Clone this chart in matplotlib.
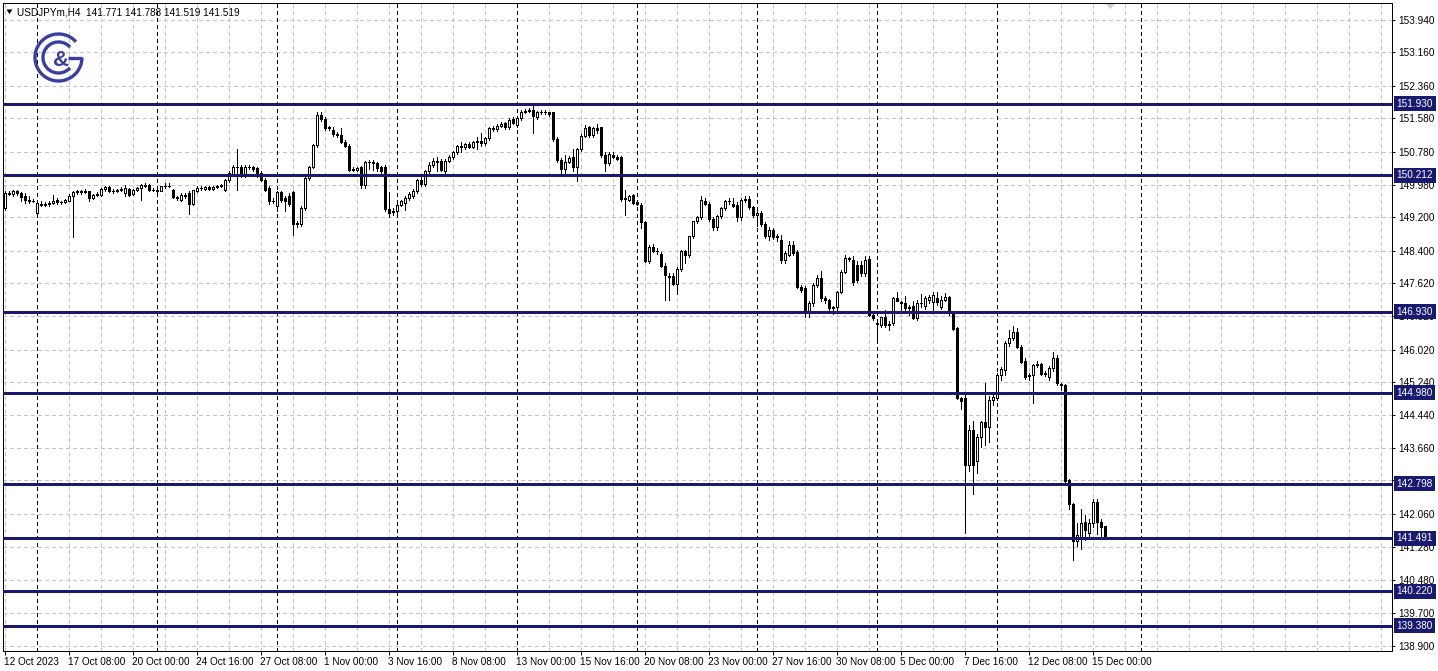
import matplotlib
matplotlib.use('Agg')
import matplotlib.pyplot as plt
from matplotlib.patches import Arc, Polygon
from matplotlib.transforms import blended_transform_factory
import numpy as np

plt.rcParams['lines.scale_dashes'] = False
plt.rcParams['font.family'] = ['Liberation Sans', 'DejaVu Sans']

# ---------------- data ----------------
symbol_header = "USDJPYm,H4  141.771 141.788 141.519 141.519"

opens = [
149.42,149.78,149.76,149.83,149.78,149.70,149.62,149.60,149.30,149.52,
149.50,149.52,149.55,149.62,149.56,149.57,149.60,149.72,149.80,149.82,
149.81,149.82,149.66,149.74,149.74,149.88,149.93,149.82,149.83,149.86,
149.78,149.88,149.76,149.85,149.90,149.98,149.98,149.86,149.85,149.84,
149.94,149.96,149.86,149.68,149.62,149.74,149.78,149.53,149.84,149.90,
149.88,149.92,149.88,149.92,149.95,149.86,150.10,150.24,150.42,150.40,
150.20,150.42,150.40,150.38,150.26,150.10,149.90,149.58,149.46,149.80,
149.66,149.72,149.80,149.04,149.04,149.42,150.14,150.42,150.94,151.66,
151.56,151.34,151.30,151.20,151.18,151.02,150.92,150.34,150.34,150.40,
149.98,150.52,150.54,150.50,150.40,150.42,149.40,149.32,149.34,149.50,
149.54,149.66,149.72,149.82,150.10,150.00,150.30,150.46,150.56,150.56,
150.30,150.56,150.64,150.76,150.92,150.88,150.96,150.90,151.00,151.04,
150.98,151.10,151.34,151.32,151.40,151.46,151.36,151.56,151.42,151.58,
151.74,151.76,151.78,151.60,151.72,151.74,151.72,151.72,151.08,150.58,
150.36,150.54,150.66,150.40,150.84,151.16,151.36,151.18,151.34,151.36,
150.70,150.50,150.70,150.66,150.66,149.64,149.62,149.74,149.56,149.50,
149.08,148.16,148.48,148.40,148.32,148.04,147.80,147.80,147.60,147.96,
148.38,148.30,148.74,149.10,149.20,149.60,149.52,149.16,148.96,149.22,
149.42,149.58,149.52,149.50,149.20,149.62,149.64,149.44,149.26,149.30,
149.04,148.76,148.90,148.72,148.65,148.17,148.30,148.53,148.37,147.53,
147.49,146.89,147.13,147.57,147.73,147.25,147.21,147.03,147.05,147.41,
147.89,148.21,148.17,148.05,148.05,147.85,148.20,146.86,146.66,146.61,
146.81,146.62,146.65,147.25,147.17,147.13,147.03,147.08,146.79,147.13,
147.08,147.21,147.17,147.25,147.05,147.21,147.29,146.89,146.53,144.85,
144.85,143.25,144.09,143.34,143.93,144.27,144.17,144.81,144.85,145.41,
145.53,146.17,146.29,146.45,146.09,145.75,145.39,145.40,145.66,145.67,
145.43,145.37,145.57,145.83,145.19,145.17,142.89,142.30,141.42,141.53,
141.88,141.61,141.85,142.37,141.89,141.771]

highs = [
149.84,149.84,149.86,149.85,149.80,149.78,149.70,149.64,149.58,149.58,
149.56,149.58,149.74,149.66,149.60,149.65,149.75,149.82,149.86,149.86,
149.87,149.84,149.76,149.80,149.90,149.95,149.96,149.87,149.88,149.92,
149.98,149.90,149.88,149.93,150.00,150.02,150.00,149.90,149.89,149.96,
150.02,150.02,149.88,149.72,149.78,149.78,149.82,149.86,149.96,149.94,
149.96,149.94,149.94,149.97,150.00,150.11,150.30,150.45,150.83,150.45,
150.45,150.46,150.44,150.40,150.30,150.14,149.94,149.66,149.84,149.84,
149.70,149.78,149.84,149.10,149.46,150.16,150.44,150.96,151.72,151.72,
151.60,151.40,151.36,151.24,151.34,151.06,150.96,150.42,150.40,150.44,
150.56,150.58,150.58,150.54,150.44,150.46,149.80,149.42,149.62,149.62,
149.70,149.80,149.88,150.12,150.16,150.34,150.52,150.62,150.64,150.60,
150.60,150.70,150.80,150.94,151.00,150.98,151.00,151.04,151.14,151.22,
151.12,151.36,151.40,151.44,151.48,151.50,151.58,151.60,151.60,151.78,
151.80,151.82,151.90,151.76,151.78,151.78,151.74,151.74,151.12,150.62,
150.70,150.68,150.84,150.86,151.20,151.42,151.40,151.38,151.44,151.38,
150.78,150.76,150.76,150.70,150.68,149.86,149.74,149.76,149.62,149.54,
149.12,148.54,148.56,148.46,148.36,148.10,147.86,147.86,148.00,148.42,
148.42,148.76,149.12,149.24,149.70,149.66,149.56,149.20,149.26,149.44,
149.62,149.66,149.66,149.56,149.66,149.70,149.72,149.48,149.36,149.34,
149.08,148.96,148.94,148.80,148.78,148.40,148.64,148.62,148.42,147.58,
147.55,147.18,147.62,147.82,147.90,147.30,147.24,147.06,147.44,147.94,
148.30,148.24,148.28,148.14,148.14,148.28,148.27,146.90,146.72,146.80,
146.98,146.70,147.28,147.40,147.20,147.30,147.10,147.20,147.22,147.35,
147.30,147.33,147.40,147.40,147.30,147.38,147.32,146.92,146.56,144.88,
144.92,144.20,144.30,144.00,144.30,145.21,144.90,145.00,145.45,145.60,
146.23,146.50,146.58,146.55,146.13,145.82,145.45,145.68,145.75,145.70,
145.50,145.62,145.96,145.88,145.22,145.20,142.92,142.33,141.86,142.18,
142.05,141.95,142.42,142.44,141.95,141.788]

lows = [
149.38,149.73,149.72,149.73,149.60,149.55,149.54,149.56,149.28,149.47,
149.48,149.48,149.52,149.52,149.52,149.55,149.58,148.73,149.76,149.76,
149.78,149.60,149.64,149.70,149.72,149.84,149.80,149.78,149.80,149.82,
149.72,149.70,149.74,149.82,149.62,149.93,149.84,149.82,149.80,149.82,
149.90,149.92,149.66,149.62,149.58,149.66,149.29,149.50,149.80,149.86,
149.86,149.86,149.86,149.90,149.93,149.82,150.05,150.20,149.86,150.16,
150.16,150.36,150.30,150.16,150.06,149.84,149.52,149.54,149.36,149.56,
149.36,149.48,148.77,148.96,148.98,149.38,150.10,150.38,150.90,151.52,
151.30,151.30,151.16,151.14,150.98,150.90,150.30,150.30,150.30,149.90,
149.90,150.36,150.34,150.30,150.26,149.34,149.20,149.26,149.26,149.46,
149.38,149.62,149.66,149.78,149.96,149.96,150.26,150.42,150.30,150.30,
150.26,150.52,150.60,150.72,150.76,150.84,150.86,150.86,150.84,150.92,
150.94,151.06,151.28,151.28,151.36,151.32,151.32,151.44,151.38,151.54,
151.70,151.72,151.22,151.56,151.68,151.68,151.64,151.04,150.54,150.18,
150.24,150.50,150.30,150.06,150.80,151.12,151.14,151.14,151.22,150.66,
150.30,150.46,150.62,150.58,149.60,149.26,149.58,149.52,149.50,148.94,
148.12,148.10,148.36,148.32,148.00,147.22,147.22,147.58,147.36,147.92,
148.10,148.24,148.70,149.06,149.16,149.50,149.12,148.90,148.90,149.18,
149.38,149.52,149.44,149.12,149.14,149.56,149.40,149.20,149.00,148.98,
148.70,148.66,148.68,148.64,148.10,148.10,148.26,148.30,147.50,147.40,
146.80,146.80,147.06,147.52,147.18,147.14,146.95,146.88,146.90,147.38,
147.86,148.16,147.58,147.64,147.80,147.80,146.84,146.72,146.20,146.56,
146.56,146.50,146.60,147.18,146.90,146.96,146.85,146.75,146.72,147.05,
147.00,147.15,146.95,147.10,147.00,147.18,146.85,146.50,144.84,144.60,
141.61,143.10,142.55,143.05,143.68,143.72,143.80,144.70,144.80,145.30,
145.40,146.10,146.25,146.05,145.70,145.32,145.30,144.73,145.60,145.40,
145.38,145.30,145.50,145.18,145.05,142.80,142.20,140.97,141.30,141.24,
141.45,141.55,141.75,141.60,141.55,141.519]

closes = [
149.78,149.77,149.83,149.78,149.68,149.62,149.60,149.59,149.54,149.50,
149.53,149.55,149.59,149.56,149.57,149.62,149.72,149.80,149.82,149.80,
149.84,149.66,149.74,149.76,149.88,149.93,149.82,149.83,149.86,149.88,
149.90,149.74,149.85,149.90,149.98,149.96,149.86,149.85,149.84,149.94,
149.96,149.95,149.68,149.66,149.74,149.70,149.53,149.85,149.90,149.90,
149.93,149.88,149.92,149.95,149.98,150.10,150.26,150.42,150.40,150.22,
150.42,150.40,150.36,150.18,150.10,149.86,149.58,149.60,149.80,149.62,
149.58,149.52,149.04,149.06,149.42,150.14,150.42,150.94,151.66,151.56,
151.34,151.36,151.20,151.18,151.02,150.92,150.34,150.36,150.38,149.98,
150.52,150.54,150.50,150.38,150.30,149.40,149.30,149.34,149.50,149.58,
149.66,149.76,149.84,150.10,150.00,150.30,150.46,150.56,150.54,150.34,
150.56,150.64,150.76,150.92,150.88,150.96,150.90,151.00,151.04,150.98,
151.10,151.34,151.32,151.40,151.44,151.36,151.54,151.46,151.58,151.74,
151.76,151.78,151.64,151.72,151.74,151.72,151.68,151.08,150.58,150.36,
150.54,150.62,150.40,150.84,151.16,151.34,151.18,151.34,151.30,150.70,
150.50,150.72,150.66,150.60,149.64,149.66,149.72,149.54,149.52,149.08,
148.16,148.48,148.40,148.38,148.04,147.82,147.76,147.60,147.96,148.38,
148.30,148.74,149.10,149.20,149.62,149.52,149.16,148.96,149.22,149.42,
149.58,149.60,149.48,149.20,149.62,149.64,149.44,149.26,149.30,149.04,
148.76,148.90,148.72,148.76,148.17,148.33,148.53,148.33,147.53,147.46,
146.89,147.13,147.57,147.73,147.25,147.22,147.01,147.05,147.41,147.89,
148.21,148.20,147.65,147.69,147.85,148.17,146.85,146.79,146.64,146.81,
146.60,146.63,147.25,147.20,147.14,147.01,147.05,146.79,147.13,147.15,
147.25,147.29,147.33,147.17,147.21,147.29,146.89,146.52,144.85,144.78,
143.25,144.09,143.25,143.93,144.27,144.17,144.81,144.89,145.41,145.55,
146.17,146.29,146.45,146.09,145.73,145.37,145.40,145.65,145.67,145.43,
145.45,145.57,145.83,145.21,145.17,142.86,142.30,141.42,141.56,141.85,
141.69,141.85,142.37,141.89,141.77,141.519]

price_ticks = ["153.940", "153.160", "152.360", "151.580", "150.780", "149.980",
               "149.200", "148.400", "147.620", "146.820", "146.020", "145.240",
               "144.440", "143.660", "142.880", "142.060", "141.280", "140.480",
               "139.700", "138.900"]
level_lines = [151.930, 150.212, 146.930, 144.980, 142.798, 141.491, 140.220, 139.380]

time_labels = ["12 Oct 2023", "17 Oct 08:00", "20 Oct 00:00", "24 Oct 16:00",
               "27 Oct 08:00", "1 Nov 00:00", "3 Nov 16:00", "8 Nov 08:00",
               "13 Nov 00:00", "15 Nov 16:00", "20 Nov 08:00", "23 Nov 00:00",
               "27 Nov 16:00", "30 Nov 08:00", "5 Dec 00:00", "7 Dec 16:00",
               "12 Dec 08:00", "15 Dec 00:00"]
bars_per_label = 16
week_start_bars = [8, 38, 68, 98, 128, 158, 188, 218, 248, 284]

# ---------------- figure ----------------
W, H = 1438, 671
fig = plt.figure(figsize=(W / 100, H / 100), dpi=100)
fig.patch.set_facecolor('white')

L, R, T, B = 3, 1392, 3, 651
ax = fig.add_axes([L / W, 1 - B / H, (R - L) / W, (B - T) / H])
ax.set_facecolor('white')

px_per_bar = 4.0
first_px = 4.5
ax.set_xlim((L - first_px) / px_per_bar, (R - first_px) / px_per_bar)
ppu = 41.62
ax.set_ylim(153.94 - (B - 20) / ppu, 153.94 + (20 - T) / ppu)

o = np.array(opens); h = np.array(highs); lo = np.array(lows); c = np.array(closes)
idx = np.arange(len(c))
up = c >= o
ONE = 0.72  # one pixel in points

grid_color = '#c4c4c4'
dash = (0, (3 * ONE, 3 * ONE))
for s in price_ticks:
    ax.axhline(float(s), color=grid_color, lw=ONE, ls=dash, zorder=1, antialiased=False)
for i in range(0, 350, 8):
    ax.axvline(i, color=grid_color, lw=ONE, ls=dash, zorder=1, antialiased=False)
for i in week_start_bars:
    ax.axvline(i, color='black', lw=ONE, ls=(0, (3 * ONE, 3 * ONE)), zorder=1.5,
               antialiased=False)

# candles
ax.vlines(idx, lo, h, colors='black', linewidth=ONE, antialiased=False, zorder=3)
ax.bar(idx[up], np.maximum(c - o, 0.004)[up], bottom=o[up], width=0.5,
       facecolor='white', edgecolor='black', linewidth=ONE, antialiased=False, zorder=4)
ax.bar(idx[~up], (o - c)[~up], bottom=c[~up], width=0.5,
       facecolor='black', edgecolor='black', linewidth=ONE, antialiased=False, zorder=4)

# levels
navy = '#191970'
for lv in level_lines:
    ax.axhline(lv, color=navy, lw=1.9, zorder=5, antialiased=False)

for sp in ax.spines.values():
    sp.set_linewidth(ONE)
    sp.set_color('black')
ax.yaxis.tick_right()
ax.set_yticks([float(s) for s in price_ticks])
ax.set_yticklabels(price_ticks)
ax.tick_params(axis='y', direction='out', length=2.5, width=ONE, pad=2,
               labelsize=7.2, colors='black')
ax.set_xticks([k * bars_per_label for k in range(len(time_labels))])
ax.set_xticklabels(time_labels)
for lab in ax.get_xticklabels():
    lab.set_horizontalalignment('left')
ax.tick_params(axis='x', direction='out', length=3, width=ONE, pad=1.5,
               labelsize=7.2, colors='black')

trans = blended_transform_factory(ax.transAxes, ax.transData)
axw = R - L
for lv in level_lines:
    ax.text(1 + 4.5 / axw, lv, f"{lv:.3f}", transform=trans, ha='left', va='center',
            fontsize=7.2, color='white', clip_on=False, zorder=10,
            bbox=dict(boxstyle='square,pad=0.25', fc=navy, ec='none'))

# ---------------- overlay (header, logo) ----------------
ov = fig.add_axes([0, 0, 1, 1], facecolor='none')
ov.set_xlim(0, W)
ov.set_ylim(H, 0)
ov.axis('off')

ov.add_patch(Polygon([[6.5, 9.5], [12.5, 9.5], [9.5, 14]], closed=True, fc='black', ec='none'))
ov.text(17, 12.5, symbol_header, fontsize=7.2, color='black', va='center', ha='left')

logo = '#3a3f9e'
cx, cy = 58.5, 57.5
ov.add_patch(Arc((cx, cy), 47, 47, theta1=0, theta2=318, color=logo, lw=2.4))
ov.add_patch(Arc((cx, cy), 31, 31, theta1=42, theta2=318, color=logo, lw=2.4))
ov.plot([cx + 9, cx + 23.5], [cy, cy], color=logo, lw=2.4, solid_capstyle='butt')
ov.text(cx + 2.5, cy + 3.5, '&', fontsize=16, color=logo, ha='center', va='center',
        fontweight='bold')

ov.add_patch(Polygon([[1106, 4], [1115, 4], [1110.5, 9]], closed=True, fc='#d0d0d0', ec='none'))

fig.savefig('out.png', dpi=100, facecolor='white')
